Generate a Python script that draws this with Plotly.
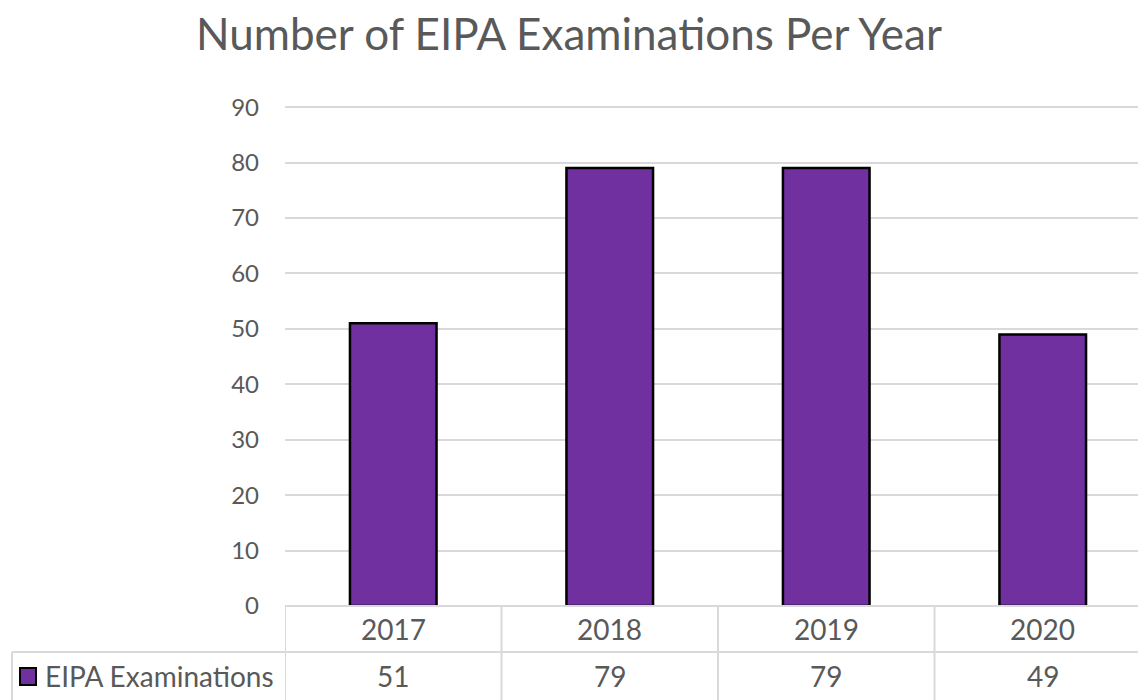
import plotly.graph_objects as go

years = ["2017", "2018", "2019", "2020"]
exams = [51, 79, 79, 49]
series_name = "EIPA Examinations"
title = "Number of EIPA Examinations Per Year"
y_ticks = [0, 10, 20, 30, 40, 50, 60, 70, 80, 90]

PURPLE = "#7030A0"
GRID = "#d9d9d9"
TEXT = "#595959"
FONT = "Lato"

W, H = 1138, 700
L, R, T, B = 285, 0, 106, 94
YMAX = 90.2

fig = go.Figure()
fig.add_trace(go.Bar(
    x=list(range(len(years))), y=exams, name=series_name,
    marker=dict(color=PURPLE, line=dict(color="black", width=2.5)),
    width=0.4, showlegend=False,
))

fig.update_layout(
    width=W, height=H,
    margin=dict(l=L, r=R, t=T, b=B, pad=0),
    paper_bgcolor="white", plot_bgcolor="white",
    font=dict(family=FONT, color=TEXT),
    title=dict(text=title, x=0.5, xanchor="center", xref="container", y=1 - 35 / H, yanchor="middle",
               font=dict(size=44, family=FONT, color=TEXT)),
    xaxis=dict(range=[-0.5, 3.44], showticklabels=False, showgrid=False, zeroline=False,
               showline=False, ticks=""),
    yaxis=dict(range=[0, YMAX], tickvals=y_ticks, showgrid=True, gridcolor=GRID, gridwidth=2,
               zeroline=False, showline=False, ticks="", ticklabelstandoff=25,
               tickfont=dict(size=24, family=FONT, color=TEXT)),
    bargap=0.6,
)

PW = W - L - R
PH = H - T - B

def py(p):
    return 1 - (p - T) / PH

def px(p):
    return (p - L) / PW

y0 = py(606)
y1 = py(652)
y2 = py(700)
line = dict(color=GRID, width=2)
# top line of header row (under the plot)
fig.add_shape(type="line", xref="x", yref="paper", x0=-0.5, x1=3.6, y0=y0, y1=y0, line=line)
# line between header row and value row
fig.add_shape(type="line", xref="paper", yref="paper", x0=px(12), x1=1.05, y0=y1, y1=y1, line=line)
# leftmost border of the value row
fig.add_shape(type="line", xref="paper", yref="paper", x0=px(12), x1=px(12), y0=y1, y1=y2 - 0.1, line=line)
for i in range(len(years)):
    fig.add_shape(type="line", xref="x", yref="paper", x0=i - 0.5, x1=i - 0.5, y0=y0, y1=y2 - 0.1, line=line)
    fig.add_annotation(x=i, y=(y0 + y1) / 2, xref="x", yref="paper", text=years[i], showarrow=False,
                       xanchor="center", yanchor="middle", font=dict(size=28, family=FONT, color=TEXT))
    fig.add_annotation(x=i, y=(y1 + y2) / 2, xref="x", yref="paper", text=str(exams[i]), showarrow=False,
                       xanchor="center", yanchor="middle", font=dict(size=28, family=FONT, color=TEXT))

# legend key
fig.add_shape(type="rect", xref="paper", yref="paper", x0=px(20), x1=px(36), y0=py(685), y1=py(668),
              fillcolor=PURPLE, line=dict(color="black", width=2))
fig.add_annotation(x=px(43), y=(y1 + y2) / 2, xref="paper", yref="paper", text=series_name,
                   showarrow=False, xanchor="left", yanchor="middle",
                   font=dict(size=28, family=FONT, color=TEXT))

fig.write_html("out.html", config={"displayModeBar": False},
               post_script="document.body.style.margin='0';")
